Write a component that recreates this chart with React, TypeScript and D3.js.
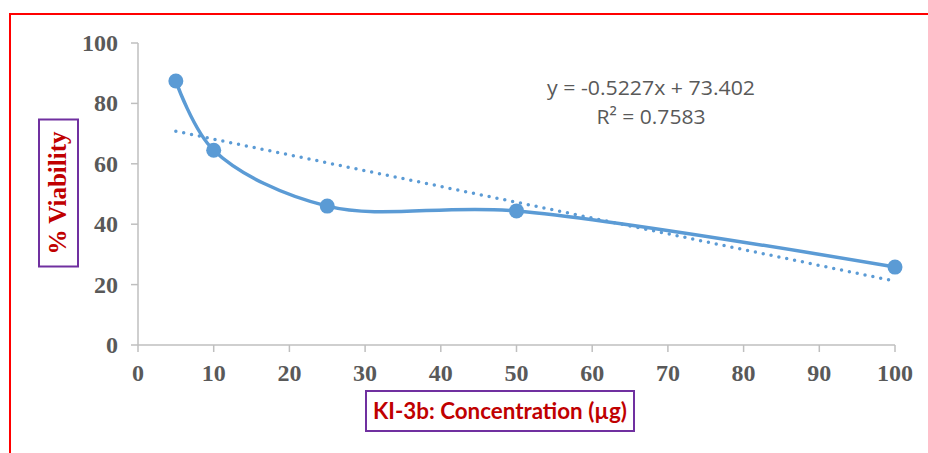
import React from "react";
import * as d3 from "d3";

const concentrations = [5, 10, 25, 50, 100];
const viability = [87.4, 64.5, 46.0, 44.4, 25.8];
const xTicks = [0, 10, 20, 30, 40, 50, 60, 70, 80, 90, 100];
const yTicks = [0, 20, 40, 60, 80, 100];
const trendSlope = -0.5227;
const trendIntercept = 73.402;
const trendRange = [5, 100];
const equationLines = ["y = -0.5227x + 73.402", "R² = 0.7583"];
const xTitle = "KI-3b: Concentration (µg)";
const yTitle = "% Viability";

export default function App() {
  const W = 928, H = 453;
  const x = d3.scaleLinear().domain([0, 100]).range([138, 895]);
  const y = d3.scaleLinear().domain([0, 100]).range([345, 43]);
  const blue = "#5b9bd5";
  const gray = "#595959";
  const axisGray = "#bfbfbf";

  const pts: [number, number][] = concentrations.map((c, i) => [c, viability[i]]);
  const line = d3
    .line<[number, number]>()
    .x((d) => x(d[0]))
    .y((d) => y(d[1]))
    .curve(d3.curveCatmullRom.alpha(0.5));
  const trendPts: [number, number][] = trendRange.map((v) => [v, trendSlope * v + trendIntercept]);
  const trend = d3
    .line<[number, number]>()
    .x((d) => x(d[0]))
    .y((d) => y(d[1]));

  return (
    <svg
      width={W}
      height={H}
      style={{ position: "absolute", left: 0, top: 0, display: "block", background: "#fff" }}
    >
      <rect x={10} y={14} width={1000} height={1000} fill="#fff" stroke="#ff0000" strokeWidth={2} />
      {/* axes */}
      <line x1={x(0)} x2={x(100)} y1={y(0)} y2={y(0)} stroke={axisGray} strokeWidth={1.5} />
      <line x1={x(0)} x2={x(0)} y1={y(0)} y2={y(100)} stroke={axisGray} strokeWidth={1.5} />
      {xTicks.map((t) => (
        <g key={"xt" + t}>
          <line x1={x(t)} x2={x(t)} y1={y(0)} y2={y(0) + 7} stroke={axisGray} strokeWidth={1.5} />
          <text
            x={x(t)}
            y={y(0) + 36}
            textAnchor="middle"
            fontFamily="'Liberation Serif', 'Times New Roman', serif"
            fontWeight="bold"
            fontSize={24}
            fill={gray}
          >
            {t}
          </text>
        </g>
      ))}
      {yTicks.map((t) => (
        <g key={"yt" + t}>
          <line x1={x(0) - 7} x2={x(0)} y1={y(t)} y2={y(t)} stroke={axisGray} strokeWidth={1.5} />
          <text
            x={118}
            y={y(t) + 8}
            textAnchor="end"
            fontFamily="'Liberation Serif', 'Times New Roman', serif"
            fontWeight="bold"
            fontSize={24}
            fill={gray}
          >
            {t}
          </text>
        </g>
      ))}
      {/* trendline */}
      <path
        d={trend(trendPts) || ""}
        fill="none"
        stroke={blue}
        strokeWidth={3.5}
        strokeLinecap="round"
        strokeDasharray="0 8"
      />
      {/* series */}
      <path d={line(pts) || ""} fill="none" stroke={blue} strokeWidth={3.5} strokeLinecap="round" />
      {pts.map((p, i) => (
        <circle key={"p" + i} cx={x(p[0])} cy={y(p[1])} r={7.5} fill={blue} />
      ))}
      {/* equation */}
      {equationLines.map((s, i) => (
        <text
          key={"eq" + i}
          x={651}
          y={95 + i * 29}
          textAnchor="middle"
          fontFamily="'Open Sans', 'Liberation Sans', sans-serif"
          fontSize={20}
          fill={gray}
          textLength={i === 0 ? 208 : 109}
          lengthAdjust="spacingAndGlyphs"
        >
          {s}
        </text>
      ))}
      {/* y title */}
      <rect x={39} y={119.5} width={39} height={147} fill="#fff" stroke="#7030a0" strokeWidth={2} />
      <text
        transform={`translate(66,193) rotate(-90)`}
        textAnchor="middle"
        fontFamily="'Liberation Serif', 'Times New Roman', serif"
        fontWeight="bold"
        fontSize={25}
        fill="#c00000"
      >
        {yTitle}
      </text>
      {/* x title */}
      <rect x={366} y={391} width={268} height={40} fill="#fff" stroke="#7030a0" strokeWidth={2} />
      <text
        x={500}
        y={419}
        textAnchor="middle"
        fontFamily="Lato, 'Open Sans', sans-serif"
        fontWeight="bold"
        fontSize={23}
        fill="#c00000"
        textLength={254}
        lengthAdjust="spacingAndGlyphs"
      >
        {xTitle}
      </text>
    </svg>
  );
}
